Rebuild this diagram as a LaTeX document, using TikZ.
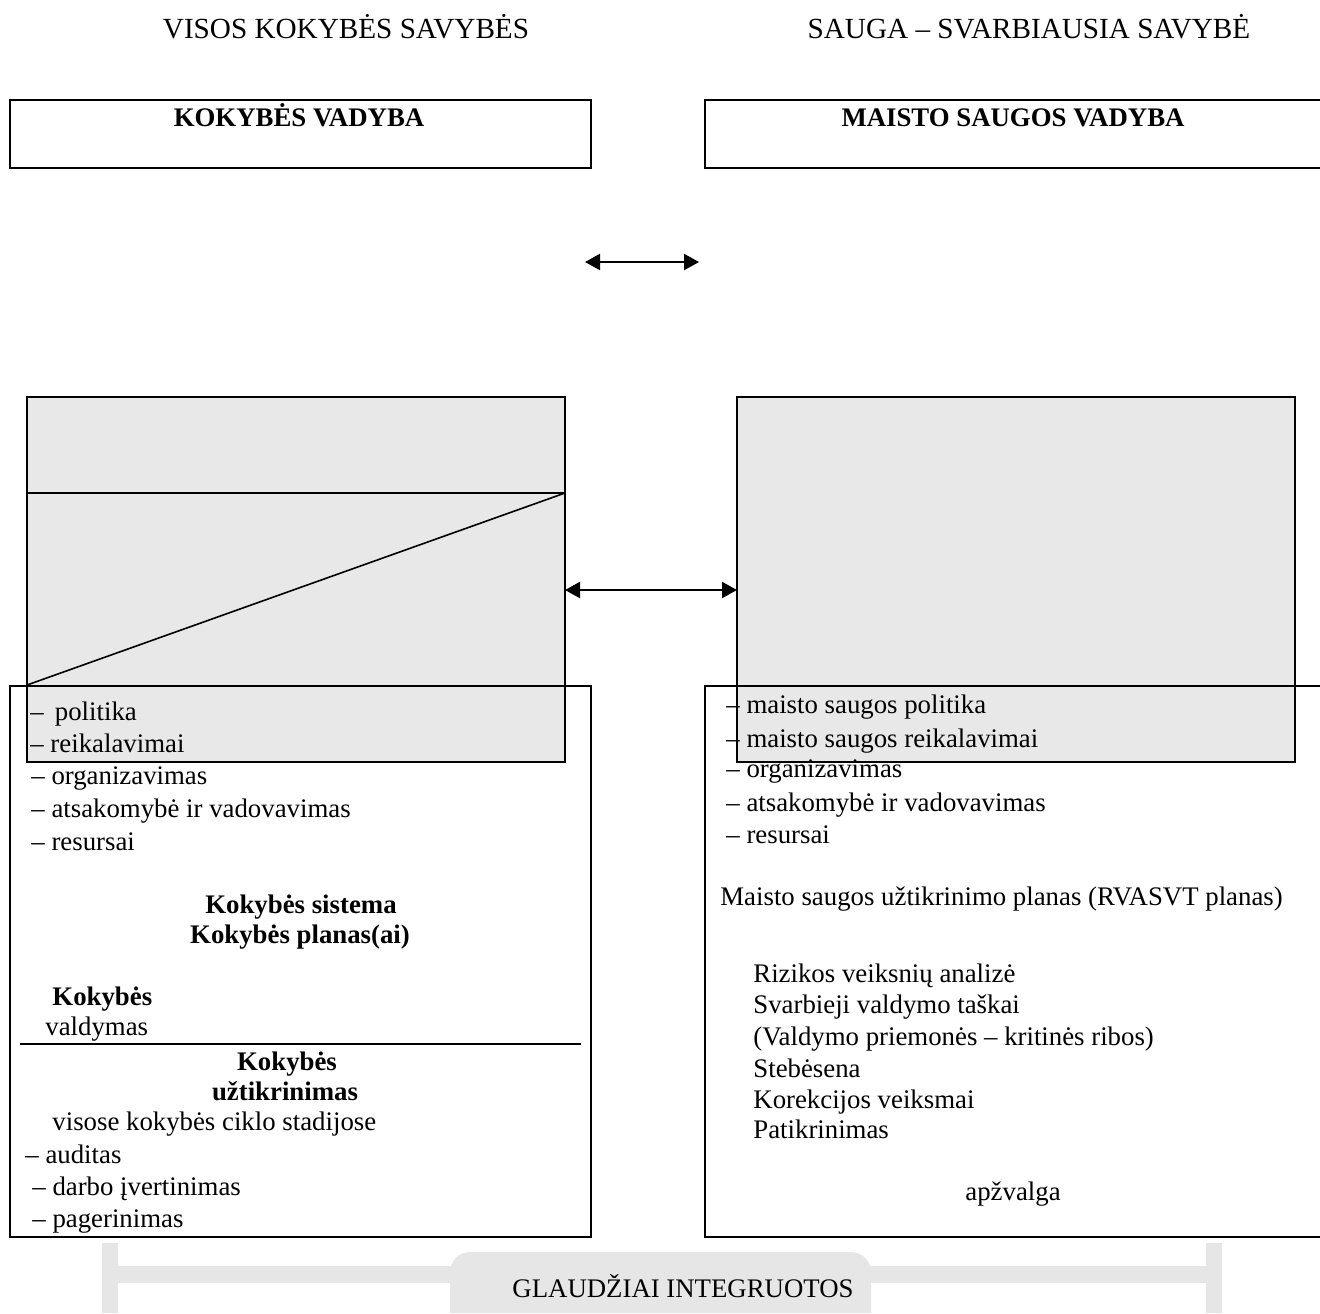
\documentclass[tikz,border=0pt]{standalone}
\usepackage{fontspec}
\setmainfont{Liberation Serif}
\usetikzlibrary{arrows.meta}
\definecolor{boxgray}{HTML}{E8E8E8}
\definecolor{bargray}{HTML}{E6E6E6}
\tikzset{
  itemtxt/.style={anchor=base west, inner sep=0pt, font=\fontsize{13.4}{16}\selectfont},
  itembold/.style={itemtxt, font=\fontsize{13.4}{16}\selectfont\bfseries},
  centertxt/.style={anchor=base, inner sep=0pt, font=\fontsize{13.4}{16}\selectfont},
  boldtxt/.style={centertxt, font=\fontsize{13.4}{16}\selectfont\bfseries},
  headtxt/.style={anchor=base, inner sep=0pt, font=\fontsize{14.6}{17}\selectfont},
  frame/.style={line width=1.1pt},
  shade/.style={fill=boxgray, draw, line width=0.8pt},
  link/.style={{Triangle[length=7.5pt,width=8pt]}-{Triangle[length=7.5pt,width=8pt]}, line width=1.1pt},
}

\begin{document}
\begin{tikzpicture}[x=0.5pt, y=-0.5pt]
    \useasboundingbox (0,0) rectangle (1320,1313);
    % headings
    \node[headtxt] (allq) at (346,38) {VISOS KOKYBĖS SAVYBĖS};
    \node[headtxt] (safeq) at (1029,38) {SAUGA – SVARBIAUSIA SAVYBĖ};
    \draw[frame] (10,100) rectangle (591,168);
    \draw[frame] (705,100) rectangle (1330,168);
    \node[boldtxt] (qm) at (299,126) {KOKYBĖS VADYBA};
    \node[boldtxt] (fsm) at (1013,126) {MAISTO SAUGOS VADYBA};
    \coordinate (tl) at (585,262);
    \coordinate (tr) at (699,262);
    \draw[link] (tl) -- (tr);

    % gray boxes
    \draw[shade] (27,397) rectangle (565,762);
    \draw[line width=0.8pt] (27,493) -- (565,493);
    \draw[line width=0.8pt] (565,493) -- (27,685);
    \draw[shade] (737,397) rectangle (1295,762);
    \coordinate (lq) at (565,590);
    \coordinate (rq) at (737,590);
    \draw[link] (lq) -- (rq);

    % left column
    \draw[frame] (10,686) rectangle (591,1237);
    \draw[line width=1pt] (20,1044) -- (581,1044);
    \node[itemtxt] (l1) at (30,720) {– \,politika};
    \node[itemtxt] (l2) at (30,752) {– reikalavimai};
    \node[itemtxt] (l3) at (31,784) {– organizavimas};
    \node[itemtxt] (l4) at (31,817) {– atsakomybė ir vadovavimas};
    \node[itemtxt] (l5) at (31,850) {– resursai};
    \node[boldtxt] (qs) at (301,913) {Kokybės sistema};
    \node[boldtxt] (qp) at (300,943) {Kokybės planas(ai)};
    \node[itembold] (qc) at (52,1005) {Kokybės};
    \node[itemtxt] (qc2) at (45,1035) {valdymas};
    \node[boldtxt] (qa) at (287,1070) {Kokybės};
    \node[boldtxt] (qa2) at (285,1100) {užtikrinimas};
    \node[itemtxt] (qa3) at (52,1130) {visose kokybės ciklo stadijose};
    \node[itemtxt] (l6) at (25,1163) {– auditas};
    \node[itemtxt] (l7) at (32,1195) {– darbo įvertinimas};
    \node[itemtxt] (l8) at (32,1227) {– pagerinimas};

    % right column
    \draw[frame] (705,686) rectangle (1330,1237);
    \node[itemtxt] (r1) at (726,713) {– maisto saugos politika};
    \node[itemtxt] (r2) at (726,747) {– maisto saugos reikalavimai};
    \node[itemtxt] (r3) at (726,777) {– organizavimas};
    \node[itemtxt] (r4) at (726,811) {– atsakomybė ir vadovavimas};
    \node[itemtxt] (r5) at (726,843) {– resursai};
    \node[itemtxt] (plan) at (720,905) {Maisto saugos užtikrinimo planas (RVASVT planas)};
    \node[itemtxt] (s1) at (753,982) {Rizikos veiksnių analizė};
    \node[itemtxt] (s2) at (753,1013) {Svarbieji valdymo taškai};
    \node[itemtxt] (s3) at (753,1045) {(Valdymo priemonės – kritinės ribos)};
    \node[itemtxt] (s4) at (753,1077) {Stebėsena};
    \node[itemtxt] (s5) at (753,1108) {Korekcijos veiksmai};
    \node[itemtxt] (s6) at (753,1138) {Patikrinimas};
    \node[centertxt] (rev) at (1013,1200) {apžvalga};

    % bottom bracket
    \fill[bargray] (102,1243) rectangle (118,1313);
    \fill[bargray] (1206,1243) rectangle (1222,1313);
    \fill[bargray] (118,1266) rectangle (1206,1283);
    \fill[bargray] (450,1313) [rounded corners=10pt] -- (450,1252) -- (871,1252) [sharp corners] -- (871,1313) -- cycle;
    \node[centertxt] (tight) at (683,1297) {GLAUDŽIAI INTEGRUOTOS};
\end{tikzpicture}
\end{document}
